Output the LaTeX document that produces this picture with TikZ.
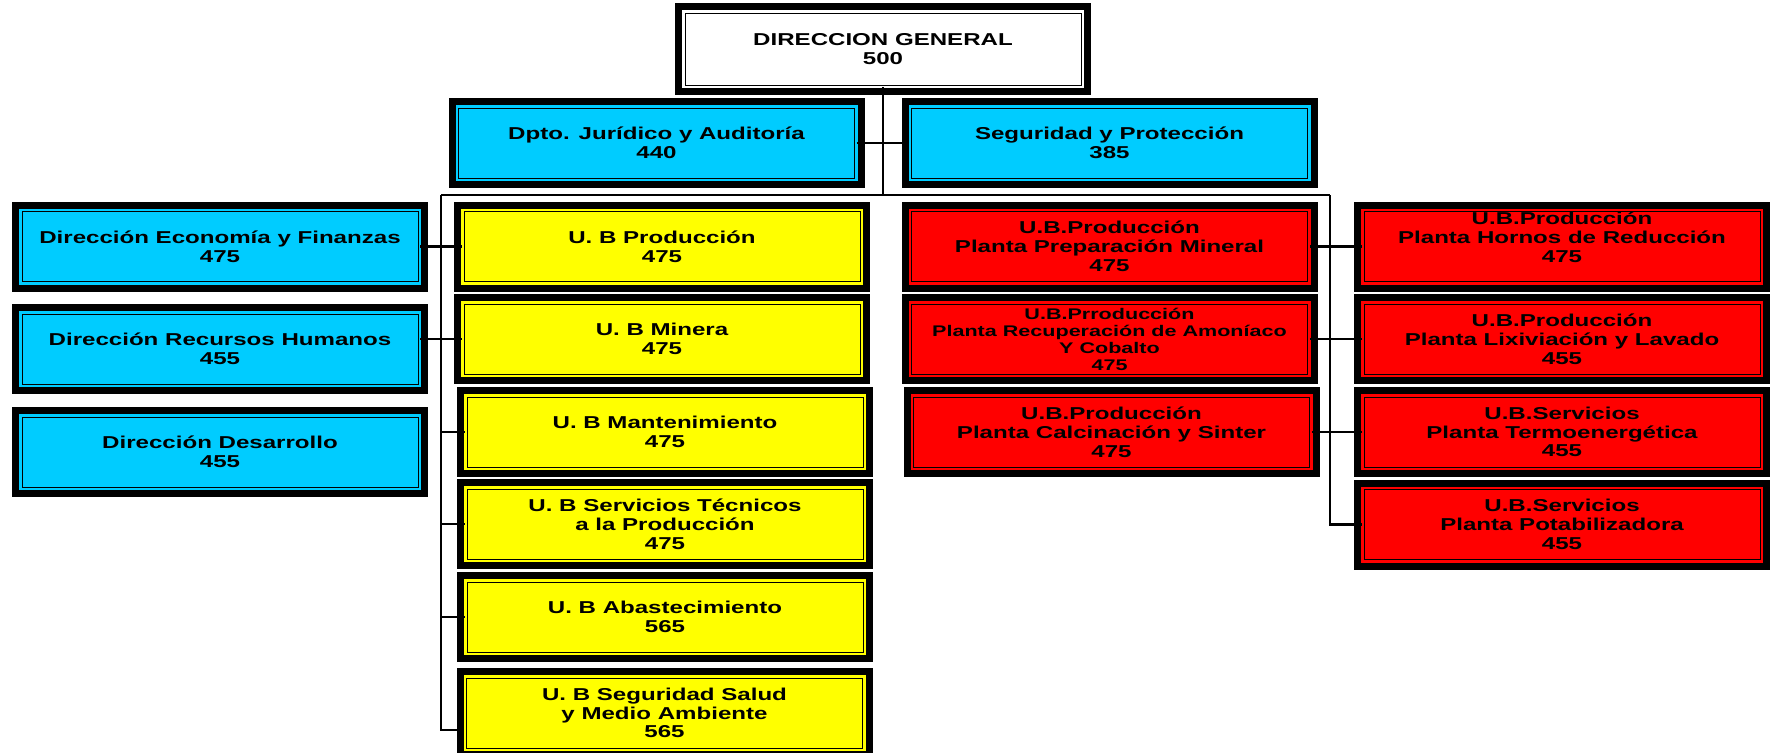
\documentclass[tikz,border=0pt]{standalone}
\usepackage{fontspec}
\newfontfamily\orgfont[FakeStretch=1.4]{Liberation Sans}
\definecolor{celeste}{HTML}{00CCFF}
\definecolor{amarillo}{HTML}{FFFF00}
\definecolor{rojo}{HTML}{FF0000}
\tikzset{orgbox/.style={fill=#1, draw=black, line width=0.5pt, double=#1, double distance=1.25pt,
            preaction={draw=black, line width=8.25pt},
            minimum width=199.75pt, minimum height=36.75pt, inner sep=0pt, align=center,
            font=\orgfont\bfseries\fontsize{8.6}{9.4}\selectfont},
        link/.style={draw=black, line width=1.2pt},
        }

\begin{document}
\begin{tikzpicture}[x=0.5pt, y=-0.5pt]
    \useasboundingbox (0,0) rectangle (1771,752);
    \clip (0,0) rectangle (1771,752);

    % direccion y staff
    \node[orgbox=white, minimum height=37.75pt] (dg) at (883,49) {DIRECCION GENERAL\\500};
    \node[orgbox=celeste] (jur) at (656.5,143) {Dpto. Jurídico y Auditoría\\440};
    \node[orgbox=celeste] (seg) at (1109.5,143) {Seguridad y Protección\\385};

    % direcciones
    \node[orgbox=celeste] (def) at (220,246.5) {Dirección Economía y Finanzas\\475};
    \node[orgbox=celeste] (drh) at (220,349) {Dirección Recursos Humanos\\455};
    \node[orgbox=celeste] (dd) at (220,452) {Dirección Desarrollo\\455};

    % unidades basicas
    \node[orgbox=amarillo] (ubp) at (662,246.5) {U. B Producción\\475};
    \node[orgbox=amarillo] (ubm) at (662,339) {U. B Minera\\475};
    \node[orgbox=amarillo] (mant) at (665,432) {U. B Mantenimiento\\475};
    \node[orgbox=amarillo] (stp) at (665,524) {U. B Servicios Técnicos\\a la Producción\\475};
    \node[orgbox=amarillo] (abast) at (665,617) {U. B Abastecimiento\\565};
    \node[orgbox=amarillo] (ssma) at (664.5,713) {U. B Seguridad Salud\\y Medio Ambiente\\565};

    % plantas
    \node[orgbox=rojo] (ppm) at (1109.5,246.5) {U.B.Producción\\Planta Preparación Mineral\\475};
    \node[orgbox=rojo, font=\orgfont\bfseries\fontsize{7.7}{8.5}\selectfont] (prac) at (1109.5,339)
        {U.B.Prroducción\\Planta Recuperación de Amoníaco\\Y Cobalto\\475};
    \node[orgbox=rojo] (pcs) at (1111.5,432) {U.B.Producción\\Planta Calcinación y Sinter\\475};
    \node[orgbox=rojo] (phr) at (1562,246.5) {U.B.Producción\\Planta Hornos de Reducción\\475\\\mbox{}};
    \node[orgbox=rojo] (pll) at (1562,339) {U.B.Producción\\Planta Lixiviación y Lavado\\455};
    \node[orgbox=rojo] (pte) at (1562,432) {U.B.Servicios\\Planta Termoenergética\\455};
    \node[orgbox=rojo] (pp) at (1562,524.5) {U.B.Servicios\\Planta Potabilizadora\\455};

    % conexiones
    \coordinate (top) at (883,195);
    \coordinate (lt) at (441,195);
    \coordinate (rt) at (1330,195);
    \coordinate (lb) at (441,730);

    \draw[link] (dg.south) -- (top);
    \draw[link] (lt) -- (rt);
    \draw[link] (jur.east) -- (seg.west);
    \draw[link] (def.east) -- (ubp.west);
    \draw[link] (ubm.west -| drh.east) -- (ubm.west);
    \draw[link] (lt) -- (lb) -- (lb -| ssma.west);
    \foreach \n in {mant,stp,abast}
        \draw[link] (lt |- \n.west) -- (\n.west);
    \draw[link] (ppm.east) -- (phr.west);
    \draw[link] (prac.east) -- (pll.west);
    \draw[link] (pcs.east) -- (pte.west);
    \draw[link] (rt) |- (pp.west);
\end{tikzpicture}
\end{document}
